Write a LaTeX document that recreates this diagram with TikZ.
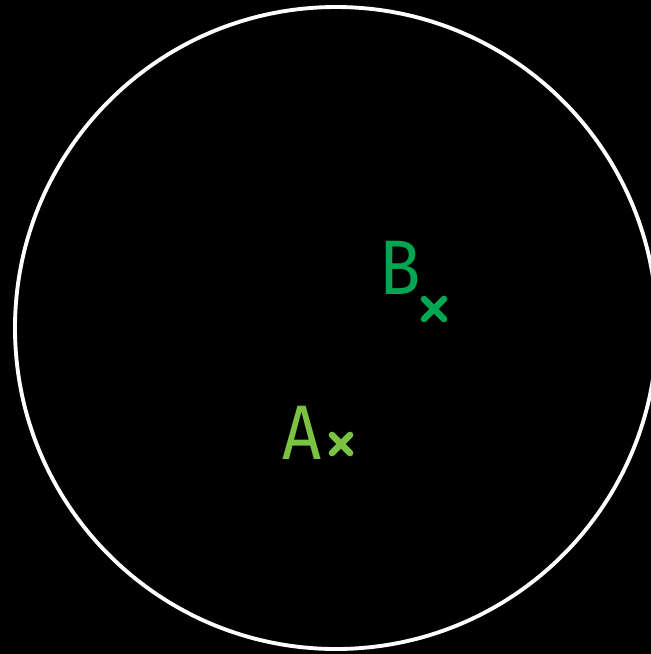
\documentclass[tikz,border=0pt]{standalone}
\usepackage{fontspec}
\setmainfont{Fira Sans}
\definecolor{greenA}{HTML}{7CC242}
\definecolor{greenB}{HTML}{00A651}
\tikzset{
    pointmark/.style={line width=1.9pt, line cap=round},
    letter/.style={font=\fontsize{22}{24}\selectfont, xscale=0.88, transform shape}
}

\begin{document}
\begin{tikzpicture}[x=0.01cm, y=-0.01cm]
        \fill[black] (0, 0) rectangle (651, 654);
        \useasboundingbox (0, 0) rectangle (651, 654);
        \draw[white, line width=1.1pt] (336, 328) circle[radius=321];
        \draw
            (400, 268) node[letter, text=greenB] (labB){B}
            (302, 433) node[letter, text=greenA] (labA){A};
        \coordinate (B) at (434, 309);
        \coordinate (A) at (341, 444);
        \begin{scope}[pointmark]
            \draw[greenB] ([shift={(-10,-10)}]B) -- ([shift={(10,10)}]B);
            \draw[greenB] ([shift={(-10,10)}]B) -- ([shift={(10,-10)}]B);
            \draw[greenA] ([shift={(-9,-9)}]A) -- ([shift={(9,9)}]A);
            \draw[greenA] ([shift={(-9,9)}]A) -- ([shift={(9,-9)}]A);
        \end{scope}
\end{tikzpicture}
\end{document}
